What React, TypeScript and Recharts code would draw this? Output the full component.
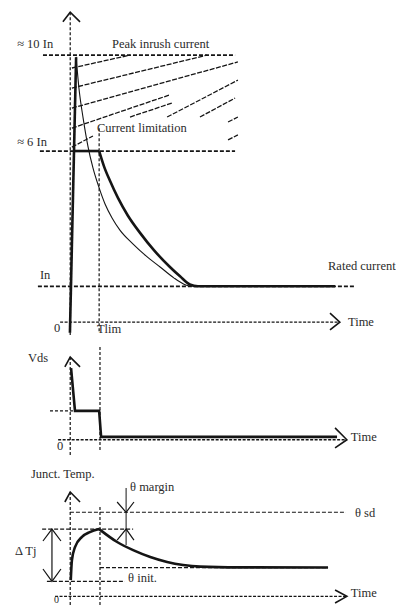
import React from 'react';
import { LineChart, Line, XAxis, YAxis, ReferenceDot } from 'recharts';

// shared time axis (Tlim = 1.03 time units)
const T_DOMAIN: [number, number] = [-2.5, 11.6];
const T_LIM = 1.03;

// --- current panel (levels in drawing units, not to scale) ---
const CUR_DOMAIN: [number, number] = [-0.5, 9];
const RATED = 1;
const LIMIT = 4.78;
const PEAK = 7.46;

const riseCurrent = [[-0.01, -0.3], [0.21, 7.4]];
const inrushCurrent = [
  [0.21, 7.41], [0.31, 6.54], [0.46, 5.7], [0.63, 4.92], [0.81, 4.31], [1.03, 3.75],
  [1.24, 3.3], [1.49, 2.91], [1.77, 2.57], [2.24, 2.18], [2.7, 1.85], [3.2, 1.54],
  [3.7, 1.23], [4.05, 1.06], [4.26, 1.0],
];
const limitedFlat = [[0.14, LIMIT], [T_LIM, LIMIT]];
const limitedDecay = [
  [T_LIM, LIMIT], [1.2, 4.36], [1.42, 3.94], [1.7, 3.47], [2.05, 2.98], [2.48, 2.5],
  [2.98, 2.01], [3.55, 1.54], [3.91, 1.28], [4.26, 1.05], [4.55, 1.0], [9.43, 1.0],
];
// hatched "forbidden" zone between limit and peak
const hatch = [
  [[0.06, 7.1], [2.13, 7.46]],
  [[0.06, 6.54], [4.87, 7.46]],
  [[0.06, 5.98], [5.97, 7.27]],
  [[0.06, 5.42], [3.55, 6.35]],
  [[3.45, 5.73], [5.97, 6.76]],
  [[2.13, 5.73], [3.62, 6.12]],
  [[4.62, 5.73], [5.87, 6.26]],
  [[5.62, 5.59], [5.97, 5.73]],
  [[5.62, 5.09], [5.97, 5.23]],
  [[0.06, 4.89], [0.81, 5.2]],
];

// --- Vds panel ---
const VDS_DOMAIN: [number, number] = [-0.7, 3.45];
const VDS_PLATEAU = 1;
const vds = [[0.03, 2.48], [0.17, VDS_PLATEAU], [T_LIM, VDS_PLATEAU], [T_LIM + 0.07, 0.1], [9.5, 0.1]];

// --- junction temperature panel ---
const TJ_DOMAIN: [number, number] = [-16, 227];
const THETA_INIT = 25;
const THETA_STEADY = 48;
const THETA_PEAK = 112;
const THETA_SD = 140;
const tjRise = [[0.02, 27], [0.06, 60], [0.17, 82], [0.42, 99], [0.7, 107], [T_LIM, THETA_PEAK]];
const tjFall = [
  [T_LIM, THETA_PEAK], [1.67, 90.5], [2.24, 77], [2.85, 65.6], [3.45, 57.3], [4.02, 52.2],
  [4.62, 49.5], [6, 48.3], [9.18, THETA_STEADY],
];

const INK = '#151515';
const TXT = '#2b2b2b';
const FONT = '"Liberation Serif", "DejaVu Serif", serif';

const pts = (pairs: number[][]) => pairs.map(([t, v]) => ({ t, v }));

function trace(key: string, pairs: number[][], width: number, dash?: string, curve: 'linear' | 'monotone' = 'linear') {
  return (
    <Line
      key={key}
      data={pts(pairs)}
      dataKey="v"
      type={curve}
      stroke={INK}
      strokeWidth={width}
      strokeDasharray={dash}
      dot={false}
      activeDot={false}
      legendType="none"
      isAnimationActive={false}
    />
  );
}

function note(key: string, t: number, v: number, text: string, size = 12.5) {
  return (
    <ReferenceDot
      key={key}
      x={t}
      y={v}
      r={0}
      ifOverflow="visible"
      shape={(p: any) => (
        <text x={p.cx} y={p.cy} style={{ fontFamily: FONT, fontSize: size, fill: TXT }}>
          {text}
        </text>
      )}
    />
  );
}

function Panel({ top, height, domain, children }: { top: number; height: number; domain: [number, number]; children: React.ReactNode }) {
  return (
    <div style={{ position: 'absolute', left: 0, top, width: 396, height }}>
      <LineChart width={396} height={height} margin={{ top: 0, right: 0, bottom: 0, left: 0 }}>
        <XAxis dataKey="t" type="number" domain={T_DOMAIN} allowDataOverflow hide />
        <YAxis type="number" domain={domain} allowDataOverflow hide />
        {children}
      </LineChart>
    </div>
  );
}

export default function App() {
  return (
    <div style={{ position: 'absolute', left: 0, top: 0, width: 396, height: 606, background: '#fff', fontFamily: FONT }}>
      <Panel top={0} height={340} domain={CUR_DOMAIN}>
        {trace('yaxis', [[0, 8.66], [0, -0.36]], 1.2, '3 2')}
        {trace('yarrow', [[-0.26, 8.39], [0, 8.66], [0.35, 8.39]], 1.6)}
        {trace('peak', [[-0.97, PEAK], [5.87, PEAK]], 1.7, '4 2')}
        {trace('limit', [[-1.08, LIMIT], [5.87, LIMIT]], 1.7, '4 2')}
        {trace('rated', [[-1.15, RATED], [10.14, RATED]], 1.7, '4 2')}
        {trace('time', [[-0.36, 0], [9.6, 0]], 1.4, '3 1.5')}
        {trace('tarrow', [[9.25, 0.25], [9.6, 0], [9.25, -0.22]], 1.6)}
        {trace('tlim', [[T_LIM, 5.42], [T_LIM, -0.28]], 1.2, '3 2')}
        {hatch.map((h, i) => trace(`h${i}`, h, 1.3, '5 1.5'))}
        {trace('inrush', inrushCurrent, 1.1, undefined, 'monotone')}
        {trace('rise', riseCurrent, 2.6)}
        {trace('limflat', limitedFlat, 2.6)}
        {trace('limdecay', limitedDecay, 2.6, undefined, 'monotone')}
        {note('n1', -1.89, 7.66, '≈ 10 In')}
        {note('n2', 1.49, 7.66, 'Peak inrush current')}
        {note('n3', 0.95, 5.31, 'Current limitation')}
        {note('n4', -1.89, 4.92, '≈ 6 In')}
        {note('n5', -1.08, 1.2, 'In')}
        {note('n6', 9.18, 1.46, 'Rated current')}
        {note('n7', -0.58, -0.28, '0')}
        {note('n8', 0.95, -0.3, 'Tlim')}
        {note('n9', 9.89, -0.11, 'Time')}
      </Panel>

      <Panel top={340} height={120} domain={VDS_DOMAIN}>
        {trace('yaxis', [[0, 2.86], [0, -0.53]], 1.2, '3 2')}
        {trace('yarrow', [[-0.19, 2.52], [0, 2.86], [0.35, 2.52]], 1.6)}
        {trace('tlim', [[T_LIM + 0.03, 3.21], [T_LIM + 0.03, -0.42]], 1.2, '3 2')}
        {trace('plateau', [[-0.72, VDS_PLATEAU], [0.17, VDS_PLATEAU]], 1.2, '3 2')}
        {trace('time', [[-0.43, 0], [9.85, 0]], 1.4, '3 1.5')}
        {trace('tarrow', [[9.43, 0.41], [9.85, 0], [9.43, -0.28]], 1.6)}
        {trace('vds', vds, 2.6)}
        {note('m1', -1.5, 2.69, 'Vds')}
        {note('m2', -0.47, -0.35, '0')}
        {note('m3', 9.99, -0.04, 'Time')}
      </Panel>

      <Panel top={460} height={146} domain={TJ_DOMAIN}>
        {trace('yaxis', [[0, 173.7], [0, -16]], 1.2, '3 2')}
        {trace('yarrow', [[-0.19, 157.1], [0, 173.7], [0.35, 157.1]], 1.6)}
        {trace('tlim', [[T_LIM + 0.03, 148.8], [T_LIM + 0.03, -16]], 1.2, '3 2')}
        {trace('sd', [[-0.01, THETA_SD], [9.82, THETA_SD]], 1.2, '4 2')}
        {trace('pk', [[-1.0, THETA_PEAK], [2.24, THETA_PEAK]], 1.2, '4 2')}
        {trace('init', [[-0.83, THETA_INIT], [1.95, THETA_INIT]], 1.2, '4 2')}
        {trace('steady', [[T_LIM + 0.03, THETA_STEADY], [9.18, THETA_STEADY]], 1.2, '4 2')}
        {trace('time', [[-0.54, 0], [9.85, 0]], 1.4, '3 1.5')}
        {trace('tarrow', [[9.43, 10.6], [9.85, 0], [9.43, -11]], 1.6)}
        {trace('margin', [[1.99, 180.4], [1.99, 85.5]], 1)}
        {trace('marginTop', [[1.67, 157.1], [1.99, THETA_SD], [2.27, 157.1]], 1.2)}
        {trace('marginBot', [[1.67, 93.8], [1.99, THETA_PEAK], [2.27, 93.8]], 1.2)}
        {trace('dtj', [[-0.65, THETA_PEAK], [-0.65, THETA_INIT]], 1.2)}
        {trace('dtjTop', [[-0.97, 92.2], [-0.65, THETA_PEAK], [-0.33, 92.2]], 1.2)}
        {trace('dtjBot', [[-0.97, 45.6], [-0.65, THETA_INIT], [-0.33, 45.6]], 1.2)}
        {trace('tjRise', tjRise, 2.6, undefined, 'monotone')}
        {trace('tjFall', tjFall, 2.6, undefined, 'monotone')}
        {note('j1', -1.4, 197, 'Junct. Temp.')}
        {note('j2', 2.13, 175.4, 'θ margin')}
        {note('j3', 10.14, 132, 'θ sd')}
        {note('j4', -1.97, 68.9, 'Δ Tj')}
        {note('j5', 2.06, 24, 'θ init.')}
        {note('j6', 9.99, -0.3, 'Time')}
        {note('j7', -0.58, -11.3, '0', 10)}
      </Panel>
    </div>
  );
}
